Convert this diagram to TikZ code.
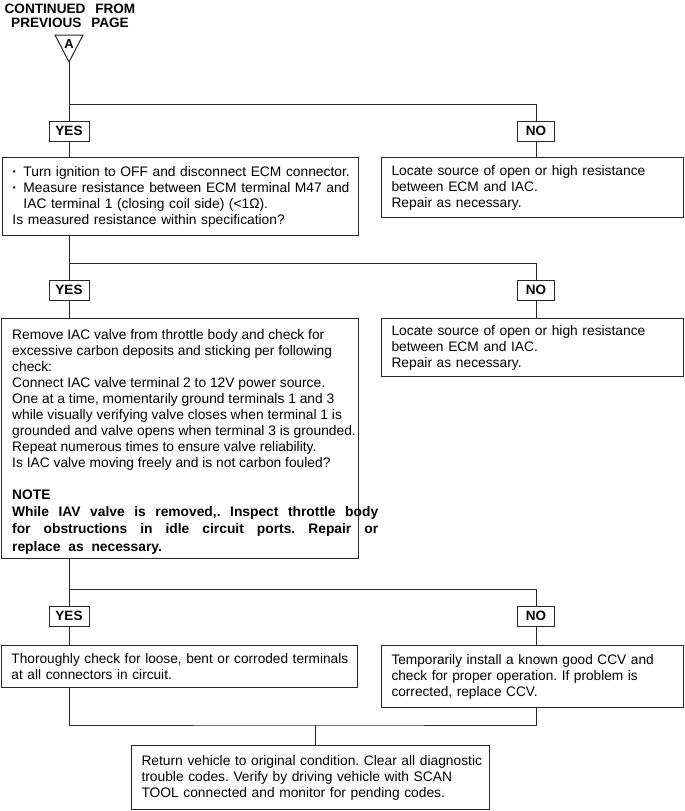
\documentclass[tikz,border=0pt]{standalone}
\usepackage{fontspec}
\setmainfont{Liberation Sans}
\newfontfamily\narrowfont[FakeStretch=0.99]{Liberation Sans}
\frenchspacing
\newcommand{\bul}{\makebox[11pt][l]{\textbf{·}}}
\newcommand{\oneline}[1]{\mbox{#1}}
\begin{document}
\begin{tikzpicture}[x=1pt,y=-1pt,
  every node/.style={inner sep=0pt},
  box/.style={draw=black!85, line width=1pt, anchor=north west, align=left,
    font=\fontsize{13.8}{16}\selectfont, inner xsep=10pt, inner ysep=0pt},
  tag/.style={draw=black!85, line width=1pt, font=\bfseries\fontsize{13.5}{14}\selectfont,
    minimum height=20pt, minimum width=40pt, inner xsep=4pt},
  conn/.style={line width=1pt, draw=black!85}]
\useasboundingbox (0,0) rectangle (685,811);

% header
\node[font=\bfseries\fontsize{13.6}{14}\selectfont, align=center] (title) at (70,16)
  {CONTINUED\hspace{6pt} FROM\\PREVIOUS\hspace{6pt} PAGE};
\draw[conn] (55,35) -- (83,35) -- (69,62) -- cycle;
\node[font=\bfseries\fontsize{13}{13}\selectfont] (A) at (69,44.5) {A};
\coordinate (apex) at (69,62);

% row 1
\node[tag] (yes1) at (69,131) {YES};
\node[tag, minimum width=37pt] (no1) at (536,131) {NO};
\node[box, text width=336pt, minimum height=78pt] (b1) at (2,157)
  {\oneline{\bul Turn ignition to OFF and disconnect ECM connector.}\\
   \oneline{\bul Measure resistance between ECM terminal M47 and}\\
   \oneline{\hspace*{11pt}IAC terminal 1 (closing coil side) (<1Ω).}\\
   \oneline{Is measured resistance within specification?}};
\node[box, text width=282pt, minimum height=60pt] (n1) at (381,157)
  {\oneline{Locate source of open or high resistance}\\\oneline{between ECM and IAC.}\\\oneline{Repair as necessary.}};
\coordinate (j1) at (69,104);
\draw[conn] (apex) -- (yes1.north);
\draw[conn] (j1) -| (no1.north);
\draw[conn] (yes1.south) -- (yes1.south |- b1.north);
\draw[conn] (no1.south) -- (no1.south |- n1.north);

% row 2
\node[tag] (yes2) at (69,290) {YES};
\node[tag, minimum width=37pt] (no2) at (536,290) {NO};
\node[draw=black!85, line width=1pt, anchor=north west, minimum width=357pt, minimum height=240pt] (b2) at (1,318) {};
\node[anchor=north west, align=left, font=\fontsize{13.8}{16}\selectfont] (b2t) at (12,329)
  {Remove IAC valve from throttle body and check for\\
   excessive carbon deposits and sticking per following\\
   check:\\
   Connect IAC valve terminal 2 to 12V power source.\\
   One at a time, momentarily ground terminals 1 and 3\\
   while visually verifying valve closes when terminal 1 is\\
   grounded and valve opens when terminal 3 is grounded.\\
   Repeat numerous times to ensure valve reliability.\\
   Is IAC valve moving freely and is not carbon fouled?\\[16pt]
   \textbf{NOTE}\\[1pt]
   \parbox[t]{366pt}{\bfseries\fontsize{13.8}{17.5}\selectfont While IAV valve is removed,. Inspect throttle body\linebreak
   for obstructions in idle circuit ports. Repair or\linebreak
   replace\hspace{4pt} as\hspace{4pt} necessary.}};
\node[box, text width=282pt, minimum height=58pt] (n2) at (381,318)
  {\oneline{Locate source of open or high resistance}\\\oneline{between ECM and IAC.}\\\oneline{Repair as necessary.}};
\coordinate (j2) at (69,263);
\draw[conn] (yes2.north |- b1.south) -- (yes2.north);
\draw[conn] (j2) -| (no2.north);
\draw[conn] (yes2.south) -- (yes2.south |- b2.north);
\draw[conn] (no2.south) -- (no2.south |- n2.north);

% row 3
\node[tag] (yes3) at (69,616) {YES};
\node[tag, minimum width=37pt] (no3) at (536,616) {NO};
\node[box, text width=336pt, minimum height=42pt, font=\narrowfont\fontsize{13.8}{16}\selectfont] (b3) at (1,645)
  {\oneline{Thoroughly check for loose, bent or corroded terminals}\\\oneline{at all connectors in circuit.}};
\node[box, text width=282pt, minimum height=62pt, font=\narrowfont\fontsize{13.8}{16}\selectfont] (n3) at (381,645)
  {\oneline{Temporarily install a known good CCV and}\\\oneline{check for proper operation. If problem is}\\\oneline{corrected, replace CCV.}};
\coordinate (j3) at (69,589);
\draw[conn] (yes3.north |- b2.south) -- (yes3.north);
\draw[conn] (j3) -| (no3.north);
\draw[conn] (yes3.south) -- (yes3.south |- b3.north);
\draw[conn] (no3.south) -- (no3.south |- n3.north);

% final
\node[box, text width=338pt, minimum height=64pt] (fin) at (131,745)
  {\oneline{Return vehicle to original condition. Clear all diagnostic}\\
   \oneline{trouble codes. Verify by driving vehicle with SCAN}\\
   \oneline{TOOL connected and monitor for pending codes.}};
\coordinate (j4) at (315,725);
\draw[conn] (yes3.south |- b3.south) |- (j4) -| (no3.south |- n3.south);
\draw[conn] (j4) -- (j4 |- fin.north);
\end{tikzpicture}
\end{document}
